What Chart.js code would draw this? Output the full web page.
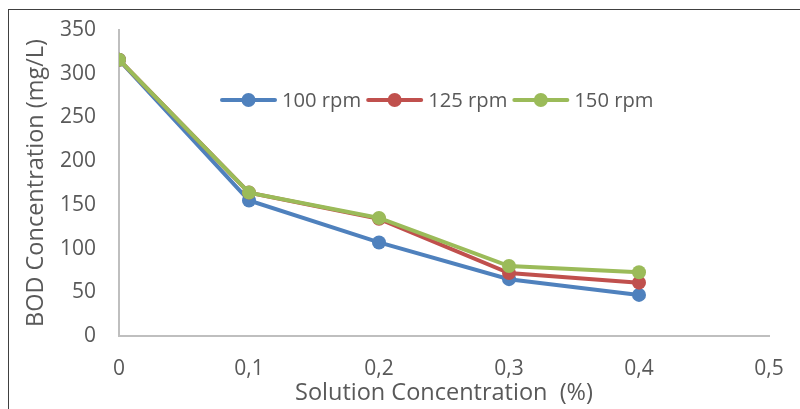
<!DOCTYPE html>
<html>
<head>
<meta charset="utf-8">
<script src="https://cdn.jsdelivr.net/npm/chart.js@4.4.1/dist/chart.umd.min.js"></script>
<style>
  html, body { margin: 0; padding: 0; background: #fff; }
  #wrap { width: 800px; height: 409px; position: relative; }
</style>
</head>
<body>
<div id="wrap"><canvas id="chart" width="800" height="409"></canvas></div>
<script>
const concentrations = [0, 0.1, 0.2, 0.3, 0.4];
const rpm100 = [316, 155, 107, 65, 47];
const rpm125 = [316, 164, 134, 72, 61];
const rpm150 = [316, 164, 135, 80, 73];
const seriesNames = ["100 rpm", "125 rpm", "150 rpm"];
const seriesColors = ["#4F81BD", "#C0504D", "#9BBB59"];

const FONT = "Open Sans";
const textGrey = "#595959";

const toPoints = (values) => values.map((v, i) => ({ x: concentrations[i], y: v }));

// later series sit on top, like in the spreadsheet
const makeDataset = (idx, values) => ({
  label: seriesNames[idx],
  data: toPoints(values),
  order: 3 - idx,
  borderColor: seriesColors[idx],
  backgroundColor: seriesColors[idx],
  borderWidth: 4,
  pointRadius: 7,
  pointHoverRadius: 7,
  pointBorderWidth: 0,
  tension: 0,
});

// fixed axis box sizes, and no extra room asked for the end labels
const fixBox = (w, h) => (scale) => {
  if (w) scale.width = w;
  if (h) scale.height = h;
  scale.paddingTop = 0;
  scale.paddingBottom = 0;
  scale.paddingLeft = 0;
  scale.paddingRight = 0;
};

// frame round the chart + legend drawn like the spreadsheet one
const frameAndLegend = {
  id: "frameAndLegend",
  afterDraw(chart) {
    const { ctx } = chart;
    ctx.save();
    ctx.strokeStyle = "#404040";
    ctx.lineWidth = 1;
    ctx.strokeRect(8.5, 9.5, 820, 420);

    ctx.font = `20.2px "${FONT}"`;
    ctx.textBaseline = "middle";
    ctx.textAlign = "left";
    let x = 222;
    const y = 100;
    seriesNames.forEach((name, i) => {
      ctx.strokeStyle = seriesColors[i];
      ctx.fillStyle = seriesColors[i];
      ctx.lineWidth = 4;
      ctx.lineCap = "round";
      ctx.beginPath();
      ctx.moveTo(x, y);
      ctx.lineTo(x + 53, y);
      ctx.stroke();
      ctx.beginPath();
      ctx.arc(x + 26.5, y, 7, 0, Math.PI * 2);
      ctx.fill();
      ctx.fillStyle = textGrey;
      ctx.fillText(name, x + 60, y + 1);
      x += 60 + ctx.measureText(name).width + 7;
    });
    ctx.restore();
  },
};

new Chart(document.getElementById("chart"), {
  type: "line",
  data: {
    datasets: [
      makeDataset(0, rpm100),
      makeDataset(1, rpm125),
      makeDataset(2, rpm150),
    ],
  },
  options: {
    responsive: false,
    animation: false,
    layout: { padding: { left: 0, right: 31, top: 30, bottom: 0 } },
    plugins: {
      legend: { display: false },
      tooltip: { enabled: false },
    },
    scales: {
      x: {
        type: "linear",
        min: 0,
        max: 0.5,
        afterFit: fixBox(0, 73),
        ticks: {
          stepSize: 0.1,
          padding: 20,
          color: textGrey,
          font: { family: FONT, size: 21 },
          callback: (v) => (Math.round(v * 10) / 10).toString().replace(".", ","),
        },
        grid: { display: false, drawTicks: false },
        border: { color: "#BFBFBF", width: 2 },
        title: {
          display: true,
          text: "Solution Concentration  (%)",
          color: textGrey,
          font: { family: FONT, size: 23.5 },
          padding: { top: 0, bottom: 2 },
        },
      },
      y: {
        min: 0,
        max: 350,
        afterFit: fixBox(119, 0),
        ticks: {
          stepSize: 50,
          padding: 23,
          color: textGrey,
          font: { family: FONT, size: 21 },
        },
        grid: { display: false, drawTicks: false },
        border: { color: "#BFBFBF", width: 2 },
        title: {
          display: true,
          text: "BOD Concentration (mg/L)",
          color: textGrey,
          font: { family: FONT, size: 23.5 },
          padding: { top: 22, bottom: 0 },
        },
      },
    },
  },
  plugins: [frameAndLegend],
});
</script>
</body>
</html>
